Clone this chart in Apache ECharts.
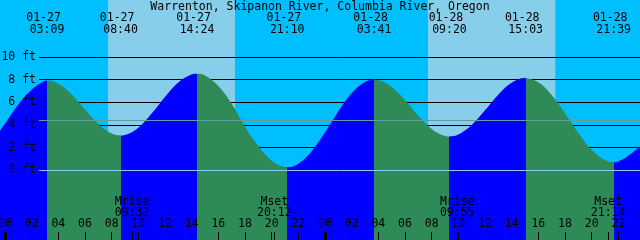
<!DOCTYPE html>
<html lang="en">
<head>
<meta charset="utf-8">
<title>Warrenton tide chart</title>
<script src="https://cdn.jsdelivr.net/npm/echarts@6/dist/echarts.min.js"></script>
<style>
  html, body { margin: 0; padding: 0; background: #00BFFF; }
  #chart { width: 640px; height: 240px; }
</style>
</head>
<body>
<div id="chart"></div>
<script>
var chartTitle = 'Warrenton, Skipanon River, Columbia River, Oregon';

// hours counted from 01-27 00:00
var tideHours = [3.15, 8.667, 14.4, 21.167, 27.683, 33.333, 39.05, 45.65];
var tideFeet  = [7.93, 3.07, 8.52, 0.28, 8.0, 2.98, 8.14, 0.72];
var tideDates = ['01-27', '01-27', '01-27', '01-27', '01-28', '01-28', '01-28', '01-28'];
var tideClock = ['03:09', '08:40', '14:24', '21:10', '03:41', '09:20', '15:03', '21:39'];

// curve, one value per hour (-1 .. 48)
var sampleHours = [-1, 0, 1, 2, 3, 4, 5, 6, 7, 8, 9, 10, 11, 12, 13, 14, 15, 16, 17, 18, 19, 20, 21, 22, 23, 24,
                   25, 26, 27, 28, 29, 30, 31, 32, 33, 34, 35, 36, 37, 38, 39, 40, 41, 42, 43, 44, 45, 46, 47, 48];
var sampleFeet  = [2.5, 4.1, 5.8, 7.1, 7.9, 7.65, 6.7, 5.37, 4.09, 3.24, 3.11, 3.76, 5.01, 6.48, 7.76, 8.45, 8.36, 7.43, 5.87, 3.85, 2.15, 0.87, 0.29, 0.59, 1.69, 3.35,
                   5.2, 6.8, 7.79, 7.96, 7.36, 6.19, 4.81, 3.64, 3.02, 3.15, 3.99, 5.29, 6.67, 7.72, 8.14, 7.77, 6.65, 5.04, 3.3, 1.81, 0.9, 0.78, 1.5, 2.6];

var sunrise = [7.73, 31.72];
var sunset  = [17.25, 41.27];

var moonHours = [9.533, 20.2, 33.917, 45.233];
var moonNames = ['Mrise', 'Mset', 'Mrise', 'Mset'];
var moonClock = ['09:32', '20:12', '09:55', '21:14'];

var hourTicks = [0, 2, 4, 6, 8, 10, 12, 14, 16, 18, 20, 22, 24, 26, 28, 30, 32, 34, 36, 38, 40, 42, 44, 46];
var dayStarts = [0, 24];
var footLevels = [0, 2, 4, 6, 8, 10];
var meanFeet = 4.4;
var nowMark = [0.67, 5.5];

var FONT = 'DejaVu Sans Mono';
var X_MIN = -0.375, X_MAX = 47.625;
var Y_MIN = -6.15, Y_MAX = 15.03;

// merge hourly samples with the extremes
var curve = [];
for (var i = 0; i < sampleHours.length; i++) curve.push([sampleHours[i], sampleFeet[i]]);
for (var i = 0; i < tideHours.length; i++) curve.push([tideHours[i], tideFeet[i]]);
curve.sort(function (a, b) { return a[0] - b[0]; });

// rising = blue, falling = green
var pieces = [];
var prev = -10;
for (var i = 0; i < tideHours.length; i++) {
    pieces.push({ gte: prev, lt: tideHours[i], color: (i % 2 === 0) ? '#0000FF' : '#2E8B57' });
    prev = tideHours[i];
}
pieces.push({ gte: prev, lt: 100, color: '#0000FF' });

function findIdx(arr, v) {
    for (var i = 0; i < arr.length; i++) if (Math.abs(arr[i] - v) < 1e-6) return i;
    return -1;
}
function pad(n) { return (n < 10 ? '0' : '') + n; }

var dayBands = [];
for (var i = 0; i < sunrise.length; i++) dayBands.push([{ xAxis: sunrise[i] }, { xAxis: sunset[i] }]);

var xBase = { type: 'value', gridIndex: 0, min: X_MIN, max: X_MAX, splitLine: { show: false },
              axisLine: { show: false, onZero: false }, z: 10 };

var chart = echarts.init(document.getElementById('chart'), null, { renderer: 'canvas' });
chart.setOption({
    animation: false,
    title: {
        text: chartTitle, left: 'center', top: 1, padding: 0,
        textStyle: { fontFamily: FONT, fontSize: 11.5, fontWeight: 'normal', color: '#000' }
    },
    grid: [
        { left: 0, right: 0, top: 0, bottom: 0, show: true, backgroundColor: '#00BFFF', borderWidth: 0, outerBoundsMode: 'none', containLabel: false },
        { left: 39, right: 0, top: 0, bottom: 0, show: false, outerBoundsMode: 'none', containLabel: false }
    ],
    xAxis: [
        Object.assign({}, xBase, {
            position: 'bottom',
            axisTick: { show: true, inside: true, length: 8, customValues: hourTicks, lineStyle: { color: '#000', width: 1 } },
            axisLabel: { show: true, inside: true, margin: 10, customValues: hourTicks, fontFamily: FONT, fontSize: 11.5, color: '#000',
                         formatter: function (v) { return pad(Math.round(v) % 24); } }
        }),
        { type: 'value', gridIndex: 1, min: 0, max: 1, show: false },
        Object.assign({}, xBase, {
            position: 'top',
            axisTick: { show: false },
            axisLabel: { show: true, inside: true, margin: 12, customValues: tideHours, fontFamily: FONT, fontSize: 11.5, color: '#000', lineHeight: 12,
                         formatter: function (v) { var k = findIdx(tideHours, v); return k < 0 ? '' : tideDates[k] + ' \n' + tideClock[k]; } }
        }),
        Object.assign({}, xBase, {
            position: 'bottom',
            axisTick: { show: true, inside: true, length: 8, customValues: moonHours, lineStyle: { color: '#000', width: 1 } },
            axisLabel: { show: true, inside: true, margin: 21, customValues: moonHours, fontFamily: FONT, fontSize: 11.5, color: '#000', lineHeight: 11,
                         formatter: function (v) { var k = findIdx(moonHours, v); return k < 0 ? '' : moonNames[k] + '\n' + moonClock[k]; } }
        }),
        Object.assign({}, xBase, {
            position: 'bottom',
            axisTick: { show: true, inside: true, length: 8, customValues: dayStarts, lineStyle: { color: '#000', width: 3 } },
            axisLabel: { show: false }
        })
    ],
    yAxis: [
        { type: 'value', gridIndex: 0, min: Y_MIN, max: Y_MAX, show: false },
        { type: 'value', gridIndex: 1, min: Y_MIN, max: Y_MAX, z: 10,
          axisLine: { show: false, onZero: false }, axisTick: { show: false }, splitLine: { show: false },
          axisLabel: { show: true, margin: 3, customValues: footLevels, fontFamily: FONT, fontSize: 11.5, color: '#000',
                       formatter: function (v) { return v + ' ft'; } } }
    ],
    visualMap: {
        type: 'piecewise', show: false, seriesIndex: 0, dimension: 0, pieces: pieces
    },
    series: [
        {
            name: 'tide', type: 'line', xAxisIndex: 0, yAxisIndex: 0, z: 2,
            data: curve, smooth: 0.4, symbol: 'none', silent: true,
            lineStyle: { width: 0 },
            areaStyle: { origin: 'start', opacity: 1 },
            markArea: { silent: true, z: 1, itemStyle: { color: '#87CEEB', opacity: 1 }, data: dayBands }
        },
        {
            name: 'levels', type: 'line', xAxisIndex: 1, yAxisIndex: 1, data: [],
            markLine: {
                silent: true, z: 1.5, symbol: ['none', 'none'], label: { show: false },
                lineStyle: { color: '#000', width: 1, type: 'solid' },
                data: footLevels.filter(function (v) { return v > 0; }).map(function (v) { return { yAxis: v }; })
            }
        },
        {
            name: 'datum', type: 'line', xAxisIndex: 1, yAxisIndex: 1, data: [],
            markLine: {
                silent: true, z: 5, symbol: ['none', 'none'], label: { show: false },
                lineStyle: { width: 1, type: 'solid' },
                data: [
                    { yAxis: 0, lineStyle: { color: '#87CEEB' } },
                    { yAxis: meanFeet, lineStyle: { color: '#5F9EA0' } }
                ]
            }
        },
        {
            name: 'now', type: 'scatter', xAxisIndex: 0, yAxisIndex: 0, z: 12, silent: true,
            data: [nowMark], symbolSize: 1, itemStyle: { opacity: 0 },
            label: { show: true, position: 'inside', formatter: '+', fontFamily: FONT, fontSize: 15, color: '#000' }
        }
    ]
});
</script>
</body>
</html>
